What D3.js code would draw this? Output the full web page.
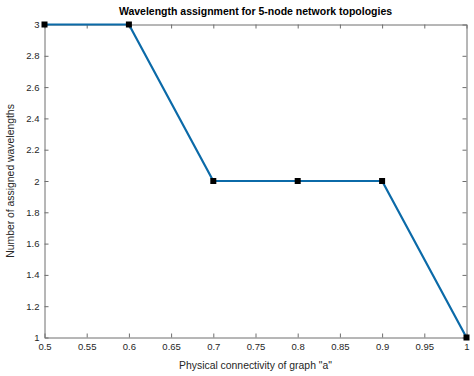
<!DOCTYPE html>
<html>
<head>
<meta charset="utf-8">
<script src="https://cdn.jsdelivr.net/npm/d3@7"></script>
<style>
  body { margin: 0; background: #fff; }
  text { font-family: "Liberation Sans", Arial, sans-serif; }
</style>
</head>
<body>
<svg id="chart" width="474" height="376"></svg>
<script>
// data
var connectivity = [0.5, 0.6, 0.7, 0.8, 0.9, 1.0];
var wavelengths = [3, 3, 2, 2, 2, 1];
var xTicks = [0.5, 0.55, 0.6, 0.65, 0.7, 0.75, 0.8, 0.85, 0.9, 0.95, 1];
var yTicks = [1, 1.2, 1.4, 1.6, 1.8, 2, 2.2, 2.4, 2.6, 2.8, 3];

var svg = d3.select("#chart");
// note: "top" is taken by window.top, so use plot* names
var plotL = 44.5, plotR = 466.5, plotT = 24.5, plotB = 337.5;

var x = d3.scaleLinear().domain([0.5, 1]).range([plotL, plotR]);
var y = d3.scaleLinear().domain([1, 3]).range([plotB, plotT]);

svg.append("rect").attr("width", 474).attr("height", 376).attr("fill", "#fff");

var axisColor = "#6e6e6e", textColor = "#262626";

// axes with inward ticks (box on)
function styleAxis(g) {
  g.select(".domain").attr("stroke", axisColor);
  g.selectAll(".tick line").attr("stroke", axisColor);
  g.selectAll(".tick text").attr("fill", textColor).style("font-size", "9.5px");
}
svg.append("g").attr("transform", "translate(0," + plotB + ")")
  .call(d3.axisBottom(x).tickValues(xTicks).tickFormat(d3.format("")).tickSizeInner(-4).tickSizeOuter(0).tickPadding(6))
  .call(styleAxis);
svg.append("g").attr("transform", "translate(0," + plotT + ")")
  .call(d3.axisTop(x).tickValues(xTicks).tickFormat("").tickSizeInner(-4).tickSizeOuter(0))
  .call(styleAxis);
svg.append("g").attr("transform", "translate(" + plotL + ",0)")
  .call(d3.axisLeft(y).tickValues(yTicks).tickFormat(d3.format("")).tickSizeInner(-4).tickSizeOuter(0).tickPadding(5))
  .call(styleAxis);
svg.append("g").attr("transform", "translate(" + plotR + ",0)")
  .call(d3.axisRight(y).tickValues(yTicks).tickFormat("").tickSizeInner(-4).tickSizeOuter(0))
  .call(styleAxis);

// line
var line = d3.line().x(function(d, i) { return x(connectivity[i]); }).y(function(d) { return y(d); });
svg.append("path").datum(wavelengths)
  .attr("d", line)
  .attr("fill", "none")
  .attr("stroke", "#0b6aa8")
  .attr("stroke-width", 2.2)
  .attr("stroke-linejoin", "round");

// square markers
svg.selectAll("rect.mk").data(wavelengths).enter().append("rect")
  .attr("class", "mk")
  .attr("x", function(d, i) { return x(connectivity[i]) - 3; })
  .attr("y", function(d) { return y(d) - 3; })
  .attr("width", 6).attr("height", 6)
  .attr("fill", "#000");

// title and labels
svg.append("text").attr("x", (plotL + plotR) / 2).attr("y", 15)
  .attr("text-anchor", "middle").style("font-size", "10.5px").style("font-weight", "bold")
  .attr("fill", "#000")
  .text("Wavelength assignment for 5-node network topologies");
svg.append("text").attr("x", (plotL + plotR) / 2).attr("y", 369)
  .attr("text-anchor", "middle").style("font-size", "10.4px").attr("fill", textColor)
  .text('Physical connectivity of graph "a"');
svg.append("text").attr("transform", "translate(14," + (plotT + plotB) / 2 + ") rotate(-90)")
  .attr("text-anchor", "middle").style("font-size", "10.4px").attr("fill", textColor)
  .text("Number of assigned wavelengths");
</script>
</body>
</html>
